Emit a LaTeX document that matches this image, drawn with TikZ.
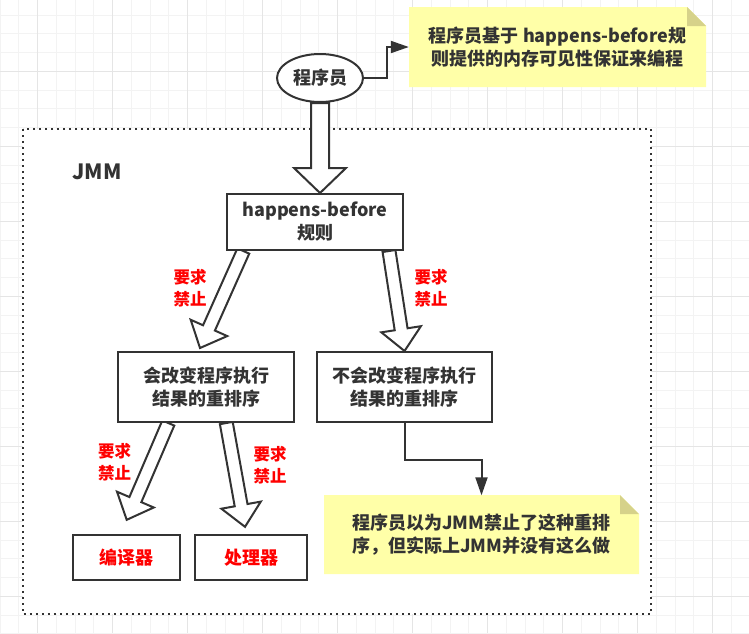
\documentclass[tikz,border=0pt]{standalone}
\usepackage{fontspec}
\setmainfont{Noto Sans CJK SC}
\usetikzlibrary{calc,arrows.meta,shapes.geometric}
\definecolor{ink}{HTML}{333333}
\definecolor{noteY}{HTML}{FFFFA8}
\definecolor{noteF}{HTML}{D6D28A}
\definecolor{gridMin}{HTML}{F3F3F3}
\definecolor{gridMaj}{HTML}{E5E5E5}
\definecolor{redlab}{HTML}{FF0000}
\pgfdeclarelayer{back}
\pgfdeclarelayer{arrowlayer}
\pgfsetlayers{back,arrowlayer,main}
\newcommand\harrow[5]{%
  \coordinate (hc) at ($(#2)!#5!(#1)$);
  \draw[hollow] ($(#1)!#3!90:(#2)$) -- ($(hc)!#3!90:(#2)$) -- ($(hc)!#4!90:(#2)$) -- (#2)
    -- ($(hc)!#4!-90:(#2)$) -- ($(hc)!#3!-90:(#2)$) -- ($(#1)!#3!-90:(#2)$) -- cycle;}
\tikzset{
  x=1pt, y=-1pt,
  mainfont/.style={font=\fontsize{18pt}{23pt}\selectfont\bfseries},
  box/.style={draw=ink, line width=2pt, fill=white, text=ink, align=center, inner sep=0pt, mainfont},
  ell/.style={ellipse, draw=ink, line width=2pt, fill=white, text=ink, inner sep=0pt,
    minimum width=86pt, minimum height=48pt, mainfont},
  notetext/.style={text=ink, align=center, inner sep=0pt, mainfont},
  lab/.style={text=redlab, align=center, inner sep=0pt, font=\fontsize{16.5pt}{22pt}\selectfont\bfseries},
  redbox/.style={box, text=redlab},
  hollow/.style={draw=ink, line width=2pt, fill=white, line join=miter},
  conn/.style={draw=ink, line width=2pt, -{Triangle[length=18pt,width=12pt]}},
}
\begin{document}
\begin{tikzpicture}
\useasboundingbox (0,0) rectangle (749,633);
\begin{pgfonlayer}{back}
  \foreach \i in {0,...,40} \draw[gridMin, line width=1pt] (\i*18.75,0) -- (\i*18.75,633);
  \foreach \i in {0,...,34} \draw[gridMin, line width=1pt] (0,\i*18.75-3.75) -- (749,\i*18.75-3.75);
  \foreach \i in {0,...,9} \draw[gridMaj, line width=1pt] (\i*75+37.5,0) -- (\i*75+37.5,633);
  \foreach \i in {0,...,8} \draw[gridMaj, line width=1pt] (0,\i*75-3.75) -- (749,\i*75-3.75);
  \draw[ink, line width=2pt, dash pattern=on 2pt off 4pt, fill=white] (23,129) rectangle (651,614);
\end{pgfonlayer}

% notes
\fill[noteY] (409,7) -- (687,7) -- (706,26) -- (706,87) -- (409,87) -- cycle;
\fill[noteF] (687,7) -- (687,26) -- (706,26) -- cycle;
\fill[noteY] (324,495) -- (620,495) -- (639,514) -- (639,574) -- (324,574) -- cycle;
\fill[noteF] (620,495) -- (620,514) -- (639,514) -- cycle;

\node[notetext, minimum width=297pt, minimum height=80pt] (n1) at (557.5,47)
  {程序员基于 happens-before规\\则提供的内存可见性保证来编程};
\node[notetext, minimum width=315pt, minimum height=79pt] (n2) at (481.5,535)
  {程序员以为JMM禁止了这种重排\\序，但实际上JMM并没有这么做};

\node[ell] (prog) at (320,78) {程序员};
\node[font=\fontsize{21pt}{24pt}\selectfont\bfseries, text=ink, inner sep=0pt] (jmm) at (97,172) {JMM};
\node[box, minimum width=176pt, minimum height=56pt] (hb) at (315,222) {happens-before\\规则};
\node[box, minimum width=176pt, minimum height=70pt] (ca) at (206,387) {会改变程序执行\\结果的重排序};
\node[box, minimum width=175pt, minimum height=70pt] (cb) at (404.5,387) {不会改变程序执行\\结果的重排序};
\node[redbox, minimum width=107pt, minimum height=45pt] (comp) at (126,557.3) {编译器};
\node[redbox, minimum width=112pt, minimum height=45pt] (proc) at (251,557.3) {处理器};

\node[lab] (l1) at (190,288.5) {要求\\禁止};
\node[lab] (l2) at (431,288.5) {要求\\禁止};
\node[lab] (l3) at (114.5,462.5) {要求\\禁止};
\node[lab] (l4) at (270,465) {要求\\禁止};

% connectors
\draw[conn] (prog.east) -- ++(22.7,0) |- (n1.west);
\draw[conn] (cb.south) |- ($(n2.north)+(0,-35)$) -- (n2.north);

% hollow arrows
\begin{pgfonlayer}{arrowlayer}
  \coordinate (a1s) at (prog.south);
  \coordinate (a1t) at ($(hb.north)+(5,0)$);
  \harrow{a1s}{a1t}{9pt}{26pt}{25pt}
  \coordinate (a2s) at ($(hb.south)+(-71.7,0)$);
  \coordinate (a2t) at ($(ca.north)+(-6,-3)$);
  \harrow{a2s}{a2t}{6.5pt}{20pt}{22pt}
  \coordinate (a3s) at ($(hb.south)+(74,0)$);
  \coordinate (a3t) at (cb.north);
  \harrow{a3s}{a3t}{6.5pt}{20pt}{22pt}
  \coordinate (a4s) at ($(ca.south)+(-37.7,0)$);
  \coordinate (a4t) at ($(comp.north)+(0.7,-14)$);
  \harrow{a4s}{a4t}{6.5pt}{20pt}{22pt}
  \coordinate (a5s) at ($(ca.south)+(20.3,0)$);
  \coordinate (a5t) at ($(proc.north)+(-6,-7)$);
  \harrow{a5s}{a5t}{6.5pt}{20pt}{22pt}
\end{pgfonlayer}
\end{tikzpicture}
\end{document}
